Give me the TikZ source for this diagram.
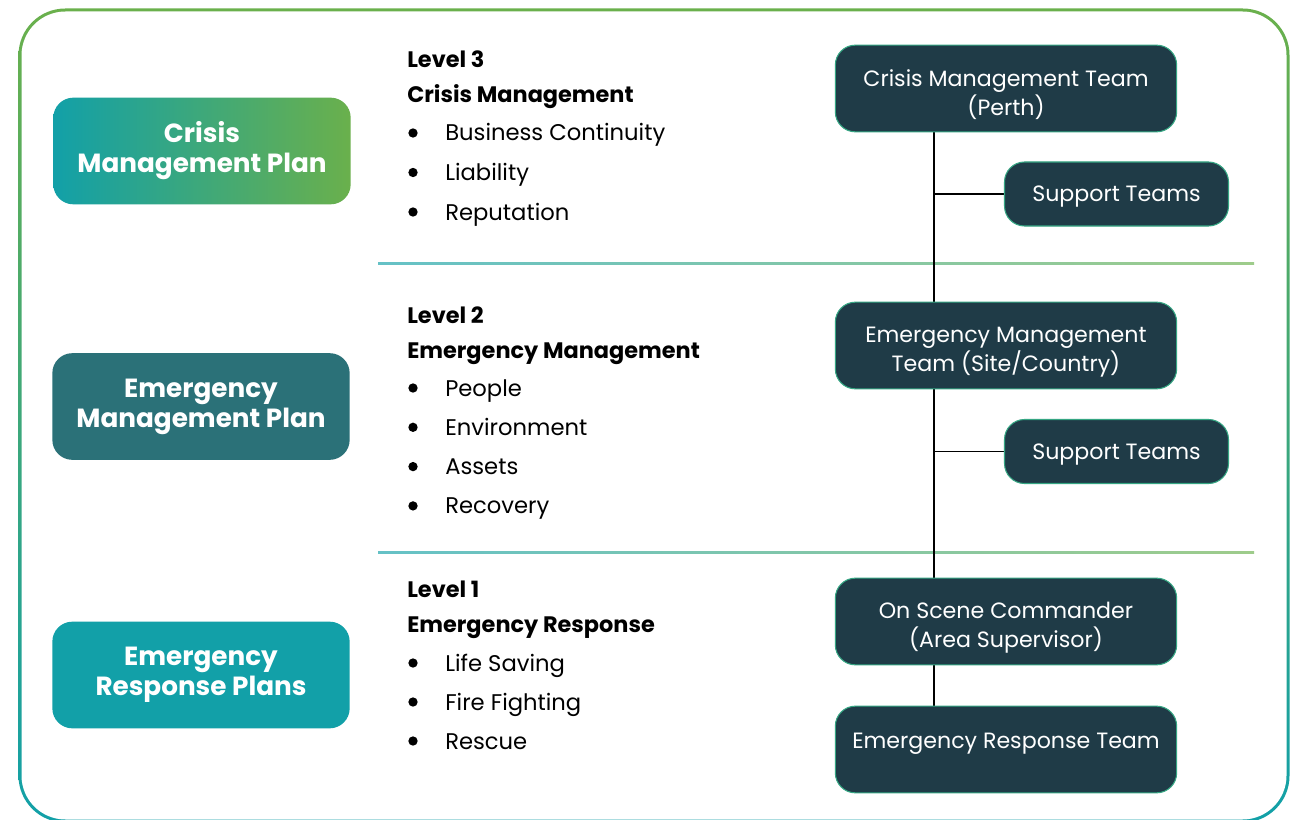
\documentclass[tikz,border=0pt]{standalone}
\usepackage{fontspec}
\setmainfont{Poppins}
\usetikzlibrary{positioning, calc, backgrounds}

\definecolor{brandteal}{HTML}{12A0A8}
\definecolor{brandgreen}{HTML}{6AB04C}
\definecolor{brandslate}{HTML}{2B7178}
\definecolor{brandnavy}{HTML}{1F3B47}

\begin{document}
\begin{tikzpicture}[
    x=0.75pt, y=-0.75pt,
    % Define node styles
    plan/.style={rectangle, rounded corners=15pt, minimum width=223pt, minimum height=80pt, align=center, text=white, font=\fontsize{19.7}{22.5}\selectfont\bfseries},
    team/.style={rectangle, rounded corners=15pt, draw=brandteal!60!brandgreen, line width=0.8pt, fill=brandnavy, text=white, minimum width=256pt, minimum height=65pt, align=center, font=\fontsize{16.6}{21.75}\selectfont, text height=44pt},
    support/.style={team, minimum width=168pt, minimum height=48pt, text height=13.5pt, text depth=1.5pt},
    heading/.style={anchor=base west, inner sep=0pt, font=\fontsize{16.8}{19}\selectfont\bfseries},
    item/.style={anchor=base west, inner sep=0pt, font=\fontsize{17}{19}\selectfont},
    dot/.style={circle, fill=black, inner sep=0pt, minimum size=7pt},
    % Define edge styles
    link/.style={line width=0.9pt, black},
    divider/.style={left color=brandteal!65, right color=brandgreen!65},
]

\clip (0,0) rectangle (1303,820);

% Outer frame with gradient border
\begin{scope}[on background layer]
\shade[top color=brandgreen, bottom color=brandteal, rounded corners=35pt] (18.5,8.5) rectangle (1289.5,822.5);
\fill[white, rounded corners=33pt] (21.5,11.5) rectangle (1286.5,819.5);

% Level dividers
\shade[divider] (378,262) rectangle (1254,264);
\shade[divider] (378,551) rectangle (1254,553);
\end{scope}

% Plans on the left
\node[plan, left color=brandteal, right color=brandgreen] (CMP) at (202,151) {Crisis\\Management Plan};
\node[plan, fill=brandslate] (EMP) at (201,406.5) {Emergency\\Management Plan};
\node[plan, fill=brandteal] (ERP) at (201,675) {Emergency\\Response Plans};

% Level 3
\node[heading] (L3) at (407,68) {Level 3};
\node[heading] (L3title) at (407,103) {Crisis Management};
\foreach \txt [count=\i] in {Business Continuity, Liability, Reputation} {
    \node[dot] (L3dot\i) at (413,{133+(\i-1)*39.5}) {};
    \node[item] (L3item\i) at (445,{141+(\i-1)*39.5}) {\txt};
}

% Level 2
\node[heading] (L2) at (407,323) {Level 2};
\node[heading] (L2title) at (407,358) {Emergency Management};
\foreach \txt [count=\i] in {People, Environment, Assets, Recovery} {
    \node[dot] (L2dot\i) at (413,{388+(\i-1)*39.3}) {};
    \node[item] (L2item\i) at (445,{396+(\i-1)*39.3}) {\txt};
}

% Level 1
\node[heading] (L1) at (407,597) {Level 1};
\node[heading] (L1title) at (407,632) {Emergency Response};
\foreach \txt [count=\i] in {Life Saving, Fire Fighting, Rescue} {
    \node[dot] (L1dot\i) at (413,{663+(\i-1)*39}) {};
    \node[item] (L1item\i) at (445,{671+(\i-1)*39}) {\txt};
}

% Teams on the right
\node[team] (CMT) at (1006,88.5) {Crisis Management Team\\(Perth)};
\node[support] (SupA) at (1116.5,194) {Support Teams};
\node[team] (EMT) at (1006,345.5) {Emergency Management\\Team (Site/Country)};
\node[support] (SupB) at (1116.5,451.5) {Support Teams};
\node[team] (OSC) at (1006,621.5) {On Scene Commander\\(Area Supervisor)};
\node[team, text height=13.5pt, text depth=14.5pt] (ERT) at (1006,749.5) {Emergency Response Team};

% Reporting lines, kept behind the boxes
\coordinate (trunk) at (934,0);
\begin{scope}[on background layer]
\draw[link] (trunk |- CMT.south) -- (trunk |- OSC.north);
\draw[link] (trunk |- OSC.south) -- (trunk |- ERT.north);
\draw[link] (trunk |- SupA.west) -- (SupA.west);
\draw[link] (trunk |- SupB.west) -- (SupB.west);
\end{scope}

\end{tikzpicture}
\end{document}
